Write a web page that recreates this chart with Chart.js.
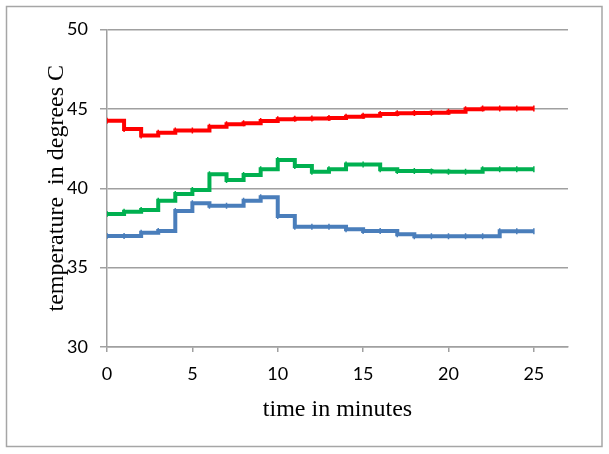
<!DOCTYPE html>
<html>
<head>
<meta charset="utf-8">
<script src="https://cdn.jsdelivr.net/npm/chart.js@4/dist/chart.umd.min.js"></script>
<style>
  html, body { margin: 0; padding: 0; background: #ffffff; }
  #wrap { width: 609px; height: 454px; position: relative; }
</style>
</head>
<body>
<div id="wrap"><canvas id="c" width="609" height="454"></canvas></div>
<script>
// time in minutes (one reading per minute)
const minutes = [0,1,2,3,4,5,6,7,8,9,10,11,12,13,14,15,16,17,18,19,20,21,22,23,24,25];
// temperatures in degrees C
const redSeries   = [44.25,43.73,43.33,43.50,43.63,43.63,43.88,44.03,44.09,44.24,44.35,44.38,44.40,44.42,44.50,44.57,44.68,44.72,44.74,44.76,44.82,44.97,45.03,45.03,45.03,45.03];
const greenSeries = [38.38,38.52,38.63,39.22,39.64,39.89,40.88,40.52,40.83,41.19,41.78,41.40,41.04,41.19,41.50,41.50,41.19,41.08,41.08,41.06,41.04,41.04,41.19,41.19,41.19,41.19];
const blueSeries  = [37.00,37.00,37.20,37.30,38.57,39.05,38.90,38.90,39.22,39.43,38.25,37.58,37.58,37.58,37.41,37.30,37.30,37.10,36.98,36.98,36.98,36.98,36.98,37.29,37.29,37.29];
const xTickValues = [0,5,10,15,20,25];
const yTickValues = [30,35,40,45,50];
const xTitle = 'time in minutes';
const yTitle = 'temperature  in degrees C';

const toPoints = vals => minutes.map((m, i) => ({ x: m, y: vals[i] }));

const frame = {
  id: 'frame',
  beforeDraw(chart) {
    const ctx = chart.ctx;
    ctx.save();
    ctx.fillStyle = '#ffffff';
    ctx.fillRect(0, 0, chart.width, chart.height);
    ctx.strokeStyle = '#a6a6a6';
    ctx.lineWidth = 1.5;
    ctx.strokeRect(6.5, 6.5, 595.5, 440);
    ctx.restore();
  }
};

const lineDs = (label, vals, color) => ({
  label,
  data: toPoints(vals),
  borderColor: color,
  backgroundColor: color,
  borderWidth: 4,
  stepped: 'before',
  pointStyle: 'line',
  rotation: 90,
  pointRadius: 3,
  pointBorderWidth: 1.5,
  pointHoverRadius: 3,
  fill: false
});

const gray = '#a0a0a0';
const tickFont = { family: 'Lato, "Open Sans", sans-serif', size: 18 };
const titleFont = { family: '"Liberation Serif", "DejaVu Serif", serif', size: 24 };

new Chart(document.getElementById('c'), {
  type: 'line',
  data: {
    datasets: [
      lineDs('blue', blueSeries, '#4a7ebb'),
      lineDs('green', greenSeries, '#00b050'),
      lineDs('red', redSeries, '#ff0000')
    ]
  },
  plugins: [frame],
  options: {
    responsive: false,
    animation: false,
    events: [],
    layout: { padding: { left: 42, top: 29.5, right: 41, bottom: 29.6 } },
    plugins: { legend: { display: false }, tooltip: { enabled: false } },
    scales: {
      x: {
        type: 'linear',
        min: 0,
        max: 27,
        afterBuildTicks: s => { s.ticks = xTickValues.map(v => ({ value: v })); },
        afterFit: s => { s.height = 77.4; },
        grid: { drawOnChartArea: false, drawTicks: true, tickLength: 5, color: gray, lineWidth: 1.5 },
        border: { display: true, color: gray, width: 1.5 },
        ticks: { color: '#000000', font: tickFont, padding: 11, maxRotation: 0 },
        title: { display: true, text: xTitle, color: '#000000', font: titleFont, padding: 0 }
      },
      y: {
        type: 'linear',
        min: 30,
        max: 50,
        afterBuildTicks: s => { s.ticks = yTickValues.map(v => ({ value: v })); },
        afterFit: s => { s.width = 65; },
        grid: { drawOnChartArea: true, drawTicks: true, tickLength: 7, color: gray, lineWidth: 1.5 },
        border: { display: true, color: gray, width: 1.5 },
        ticks: { color: '#000000', font: tickFont, padding: 12 },
        title: { display: true, text: yTitle, color: '#000000', font: titleFont, padding: 0 }
      }
    }
  }
});
</script>
</body>
</html>
